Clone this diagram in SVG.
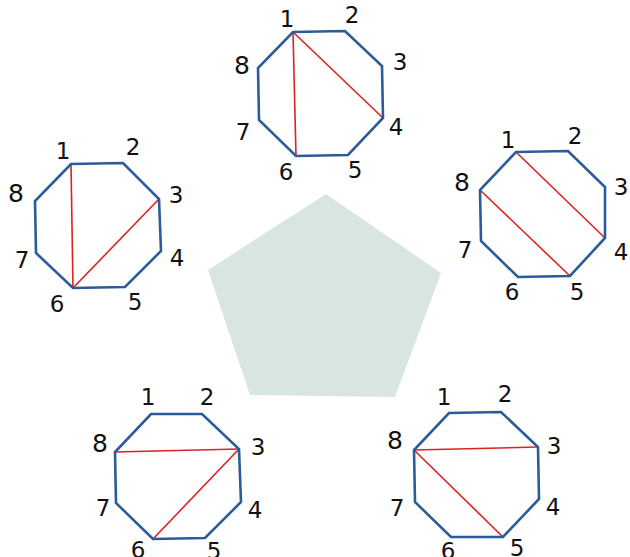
<svg xmlns="http://www.w3.org/2000/svg" width="630" height="557" viewBox="0 0 630 557">
<style>
.oct{fill:none;stroke:#2b5c98;stroke-width:2.6;stroke-linejoin:miter}
.ch{stroke:#dd2222;stroke-width:1.6}
text{font-family:"DejaVu Sans",sans-serif;font-size:23px;fill:#111;text-anchor:middle}
.b{font-size:25px}
</style>
<rect width="630" height="557" fill="#fff"/>
<polygon id="pentagon" points="326,194 441,273 395,397 250,395 208,270" fill="#d9e6e0"/>
<g id="connectors">
<line class="ch" x1="293" y1="32" x2="383" y2="118"/>
<line class="ch" x1="293" y1="32" x2="296" y2="156"/>
<line class="ch" x1="71" y1="164" x2="73" y2="288"/>
<line class="ch" x1="159" y1="199" x2="73" y2="288"/>
<line class="ch" x1="516" y1="152" x2="605" y2="238"/>
<line class="ch" x1="480" y1="190" x2="570" y2="276"/>
<line class="ch" x1="115" y1="452" x2="239" y2="449"/>
<line class="ch" x1="239" y1="449" x2="153" y2="539"/>
<line class="ch" x1="414" y1="450" x2="538" y2="447"/>
<line class="ch" x1="414" y1="450" x2="503" y2="537"/>
</g>
<g id="oct-top">
<polygon class="oct" points="293,32 345,31 382,66 383,118 348,155 296,156 259,120 258,68"/>
<text x="287" y="27">1</text><text x="352" y="23">2</text><text x="400" y="70">3</text><text x="396" y="135">4</text><text x="355" y="178">5</text><text x="286" y="180">6</text><text x="243" y="140">7</text><text class="b" x="242" y="74">8</text>
</g>
<g id="oct-left">
<polygon class="oct" points="71,164 123,163 159,199 161,251 125,287 73,288 36,253 35,201"/>
<text x="63" y="159">1</text><text x="133" y="155">2</text><text x="176" y="203">3</text><text x="177" y="266">4</text><text x="135" y="310">5</text><text x="57" y="312">6</text><text x="22" y="268">7</text><text class="b" x="16" y="202">8</text>
</g>
<g id="oct-right">
<polygon class="oct" points="516,152 568,151 605,187 605,238 570,276 518,277 481,241 480,190"/>
<text x="508" y="148">1</text><text x="575" y="144">2</text><text x="621" y="195">3</text><text x="621" y="260">4</text><text x="577" y="300">5</text><text x="512" y="300">6</text><text x="465" y="258">7</text><text class="b" x="462" y="191">8</text>
</g>
<g id="oct-bottom-left">
<polygon class="oct" points="151,414 202,414 239,449 241,502 205,538 153,539 116,503 115,452"/>
<text x="148" y="405">1</text><text x="207" y="405">2</text><text x="258" y="455">3</text><text x="255" y="518">4</text><text x="214" y="559">5</text><text x="138" y="558">6</text><text x="103" y="516">7</text><text class="b" x="100" y="452">8</text>
</g>
<g id="oct-bottom-right">
<polygon class="oct" points="449,413 501,412 538,447 539,499 503,537 451,537 415,502 414,450"/>
<text x="444" y="405">1</text><text x="505" y="402">2</text><text x="554" y="454">3</text><text x="553" y="515">4</text><text x="517" y="556">5</text><text x="448" y="559">6</text><text x="397" y="516">7</text><text class="b" x="395" y="449">8</text>
</g>
</svg>
